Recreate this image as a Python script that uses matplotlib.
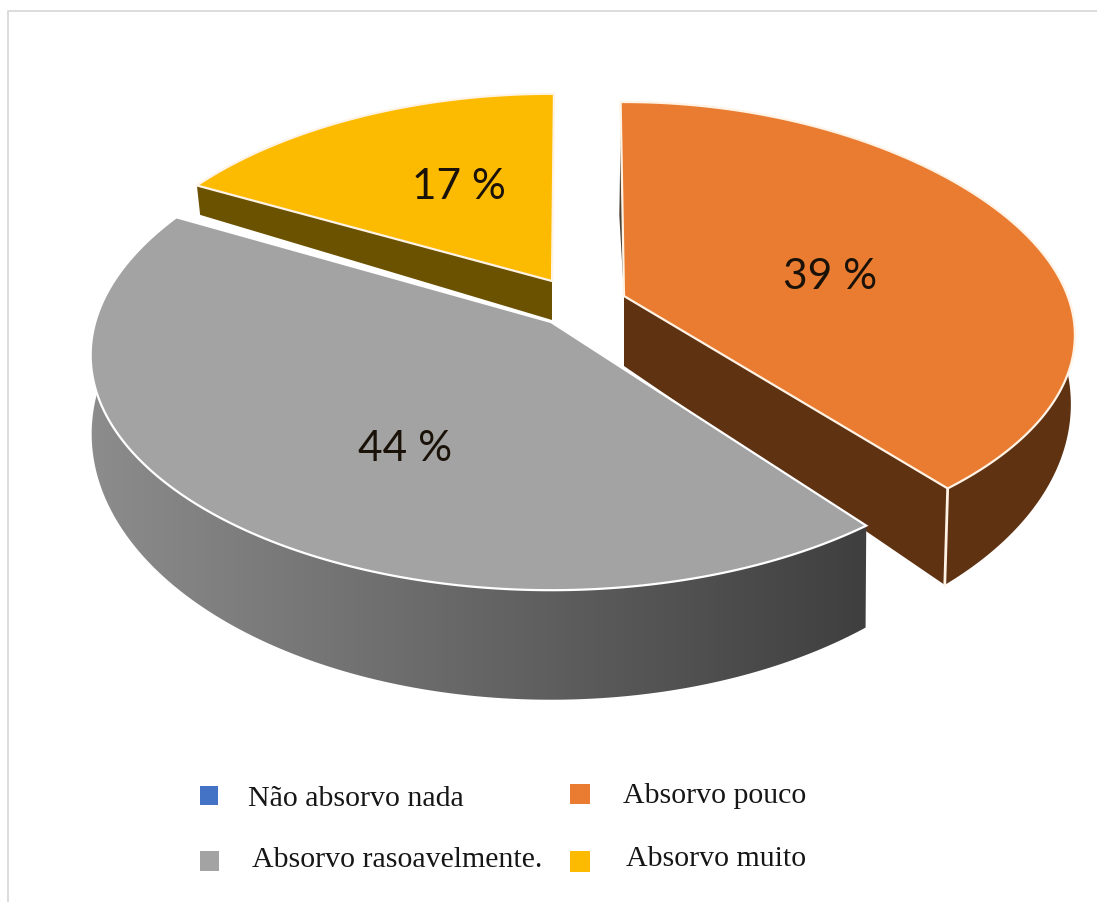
import numpy as np
import matplotlib
matplotlib.use("Agg")
import matplotlib.pyplot as plt
from matplotlib.patches import Polygon, Rectangle

# Survey answers and their shares, in percent
categories = ["Não absorvo nada", "Absorvo pouco", "Absorvo rasoavelmente.", "Absorvo muito"]
shares = [0, 39, 44, 17]
top_colors = ["#4472C4", "#E97C31", "#A3A3A3", "#FCBB00"]
side_colors = [None, "#5F3212", None, "#6B5200"]

W, H = 1097, 902

# Per-slice geometry of the exploded disc: apex, radii of upper and lower rim,
# height, perspective strength, angular offset and flattening of the upper rim
slice_geom = {
    1: dict(cx=624, cy=296, a=446, b=222.5, k=0.147, depth=70, a2=442, b2=254, rot=-0.5, flat=14),
    2: dict(cx=551, cy=322, a=457, b=236, k=0.12, depth=80, a2=456, b2=262, rot=0.9, flat=10),
    3: dict(cx=552, cy=281, a=440, b=219, k=0.17, depth=39, a2=436, b2=234, rot=0.3, flat=5),
}
label_pos = {1: (830, 277), 2: (405, 449), 3: (459, 187)}

# Legend entries: swatch corner, swatch size, text x and baseline
legend_swatch = [(200, 786, 18, 19), (570, 784, 20, 20), (200, 851, 19, 20), (570, 851, 20, 21)]
legend_text = [(248, 806), (623, 803), (252, 867), (626, 866)]


def rim(theta, cx, cy, a, b, k, flat=0.0):
    """Project points of a horizontal circle; theta runs clockwise from the back."""
    t = np.radians(theta)
    c, s = np.cos(t), np.sin(t)
    w = 1 + k * c
    return np.column_stack([cx + a * s / w, cy - b * c / w + flat * s ** 2 * (c + 1) / 2])


def shape(g, theta):
    upper = rim(theta, g["cx"], g["cy"], g["a"], g["b"], g["k"], g["flat"])
    lower = rim(theta, g["cx"], g["cy"] + g["depth"], g["a2"], g["b2"], g["k"])
    return upper, lower


fig = plt.figure(figsize=(W / 100, H / 100), dpi=100, facecolor="white")
ax = fig.add_axes([0, 0, 1, 1])
ax.set_xlim(0, W)
ax.set_ylim(H, 0)
ax.axis("off")

# Thin frame along the top and left
ax.plot([8, 8, W], [H, 11, 11], color="#DCDCDC", lw=1.4, zorder=0)

starts = np.cumsum([0] + shares[:-1]) * 3.6
ends = np.cumsum(shares) * 3.6
CREAM = "#FFF3E6"


def draw_slice(i, z, face_end):
    g = slice_geom[i]
    t0, t1 = starts[i] + g["rot"], ends[i] + g["rot"]
    theta = np.linspace(t0, t1, 240)
    upper, lower = shape(g, theta)
    apex = np.array([[g["cx"], g["cy"]]])
    apex_low = np.array([[g["cx"], g["cy"] + g["depth"]]])

    if i == 2:
        # Outer wall shaded from lighter on the left to dark on the right
        wall = Polygon(np.vstack([upper, lower[::-1]]), closed=True, transform=ax.transData,
                       facecolor="none", edgecolor="none")
        ax.add_patch(wall)
        grad = np.linspace(0, 1, 256)[None, :]
        cmap = matplotlib.colors.LinearSegmentedColormap.from_list("wall", ["#8C8C8C", "#3F3F3F"])
        im = ax.imshow(grad, extent=(90, 868, 705, 200), cmap=cmap, aspect="auto", zorder=z,
                       interpolation="bilinear")
        im.set_clip_path(wall)
    else:
        if i == 1:
            ax.add_patch(Polygon(np.vstack([upper, lower[::-1]]), closed=True, facecolor=side_colors[i],
                                 edgecolor="none", zorder=z))
        # Cut face running from the apex down to the rim
        ax.add_patch(Polygon(np.vstack([apex, upper[[face_end]], lower[[face_end]], apex_low]), closed=True,
                             facecolor=side_colors[i], edgecolor="none", zorder=z))

    if i == 1:
        # Sliver of the back cut face showing at the left of the orange slice
        back = upper[0] + [0, 33]
        mid = (apex[0] + back) / 2 + [-3.0, 0]
        ax.add_patch(Polygon(np.vstack([apex, back, mid]), closed=True,
                             facecolor="#4A4036", edgecolor="none", zorder=z))
        ax.plot([upper[-1, 0], lower[-1, 0]], [upper[-1, 1], lower[-1, 1]], color=CREAM, lw=2, zorder=z + 0.5)

    ax.add_patch(Polygon(np.vstack([apex, upper]), closed=True, facecolor=top_colors[i],
                         edgecolor="white" if i == 2 else CREAM, lw=1.6, joinstyle="miter", zorder=z + 0.6))
    x, y = label_pos[i]
    ax.text(x, y, f"{shares[i]} %", ha="center", va="center", family="Lato", fontsize=30.5,
            color="#1A1208", zorder=10)


draw_slice(3, 2, 0)
draw_slice(1, 3, -1)
draw_slice(2, 4, -1)

for name, col, (sx, sy, sw, sh), (tx, ty) in zip(categories, top_colors, legend_swatch, legend_text):
    ax.add_patch(Rectangle((sx, sy), sw, sh, facecolor=col, edgecolor="none", zorder=5))
    ax.text(tx, ty, name, ha="left", va="baseline", family="Liberation Serif", fontsize=21.5,
            color="#161616", zorder=5)

fig.savefig("out.png", dpi=100, facecolor="white")
